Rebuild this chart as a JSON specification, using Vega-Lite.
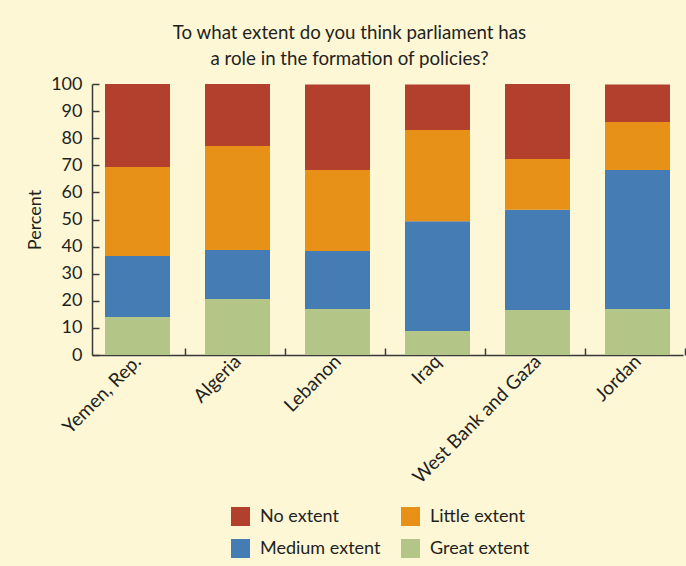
{
  "$schema": "https://vega.github.io/schema/vega-lite/v6.json",
  "autosize": "none",
  "width": 591,
  "height": 271,
  "padding": {"left": 92, "top": 84, "right": 3, "bottom": 211},
  "background": "#FDF7D6",
  "title": {
    "text": ["To what extent do you think parliament has", "a role in the formation of policies?"],
    "font": "Lato",
    "fontSize": 18.7,
    "fontWeight": "normal",
    "color": "#231F20",
    "lineHeight": 26,
    "anchor": "middle",
    "dx": -38,
    "offset": 6
  },
  "data": {
    "values": [
      {"country": "Yemen, Rep.", "response": "Great extent", "rank": 1, "percent": 14.0},
      {"country": "Yemen, Rep.", "response": "Medium extent", "rank": 2, "percent": 22.5},
      {"country": "Yemen, Rep.", "response": "Little extent", "rank": 3, "percent": 32.9},
      {"country": "Yemen, Rep.", "response": "No extent", "rank": 4, "percent": 30.6},
      {"country": "Algeria", "response": "Great extent", "rank": 1, "percent": 20.7},
      {"country": "Algeria", "response": "Medium extent", "rank": 2, "percent": 18.0},
      {"country": "Algeria", "response": "Little extent", "rank": 3, "percent": 38.4},
      {"country": "Algeria", "response": "No extent", "rank": 4, "percent": 22.9},
      {"country": "Lebanon", "response": "Great extent", "rank": 1, "percent": 17.0},
      {"country": "Lebanon", "response": "Medium extent", "rank": 2, "percent": 21.4},
      {"country": "Lebanon", "response": "Little extent", "rank": 3, "percent": 29.9},
      {"country": "Lebanon", "response": "No extent", "rank": 4, "percent": 31.5},
      {"country": "Iraq", "response": "Great extent", "rank": 1, "percent": 8.9},
      {"country": "Iraq", "response": "Medium extent", "rank": 2, "percent": 40.5},
      {"country": "Iraq", "response": "Little extent", "rank": 3, "percent": 33.6},
      {"country": "Iraq", "response": "No extent", "rank": 4, "percent": 16.8},
      {"country": "West Bank and Gaza", "response": "Great extent", "rank": 1, "percent": 16.6},
      {"country": "West Bank and Gaza", "response": "Medium extent", "rank": 2, "percent": 37.0},
      {"country": "West Bank and Gaza", "response": "Little extent", "rank": 3, "percent": 18.7},
      {"country": "West Bank and Gaza", "response": "No extent", "rank": 4, "percent": 27.7},
      {"country": "Jordan", "response": "Great extent", "rank": 1, "percent": 17.0},
      {"country": "Jordan", "response": "Medium extent", "rank": 2, "percent": 51.3},
      {"country": "Jordan", "response": "Little extent", "rank": 3, "percent": 17.7},
      {"country": "Jordan", "response": "No extent", "rank": 4, "percent": 13.8}
    ]
  },
  "mark": {"type": "bar"},
  "encoding": {
    "x": {
      "field": "country",
      "type": "nominal",
      "sort": null,
      "scale": {"paddingInner": 0.35, "paddingOuter": 0.13},
      "axis": {
        "title": null,
        "labelAngle": -45,
        "labelAlign": "right",
        "labelBaseline": "middle",
        "labelFont": "Lato",
        "labelFontSize": 19,
        "labelColor": "#231F20",
        "labelPadding": 10,
        "labelOffset": -47,
        "tickOffset": 47,
        "tickSize": -7,
        "tickColor": "#3A3A3A",
        "tickWidth": 1.5,
        "domainColor": "#3A3A3A",
        "domainWidth": 1.5,
        "grid": false
      }
    },
    "y": {
      "field": "percent",
      "type": "quantitative",
      "stack": "zero",
      "scale": {"domain": [0, 100], "nice": false},
      "axis": {
        "title": "Percent",
        "titleFont": "Lato",
        "titleFontSize": 18,
        "titleFontWeight": "normal",
        "titleColor": "#231F20",
        "titleAngle": -90,
        "titleX": -57,
        "titleY": 135.5,
        "titleAlign": "center",
        "titleBaseline": "middle",
        "values": [0, 10, 20, 30, 40, 50, 60, 70, 80, 90, 100],
        "labelFont": "Lato",
        "labelFontSize": 18,
        "labelColor": "#231F20",
        "labelPadding": 17,
        "tickSize": -7,
        "tickColor": "#3A3A3A",
        "tickWidth": 1.5,
        "domainColor": "#3A3A3A",
        "domainWidth": 1.5,
        "grid": false
      }
    },
    "color": {
      "field": "response",
      "type": "nominal",
      "scale": {
        "domain": ["No extent", "Medium extent", "Little extent", "Great extent"],
        "range": ["#B3402D", "#467CB4", "#E79118", "#B4C588"]
      },
      "legend": {
        "title": null,
        "orient": "none",
        "legendX": 139,
        "legendY": 423,
        "columns": 2,
        "direction": "vertical",
        "columnPadding": 20,
        "rowPadding": 13,
        "symbolType": "square",
        "symbolSize": 361,
        "symbolStrokeWidth": 0,
        "symbolOpacity": 1,
        "labelFont": "Lato",
        "labelFontSize": 18,
        "labelColor": "#231F20",
        "labelOffset": 10,
        "padding": 0
      }
    },
    "order": {"field": "rank", "type": "quantitative", "sort": "ascending"}
  },
  "config": {
    "view": {"stroke": null}
  }
}
